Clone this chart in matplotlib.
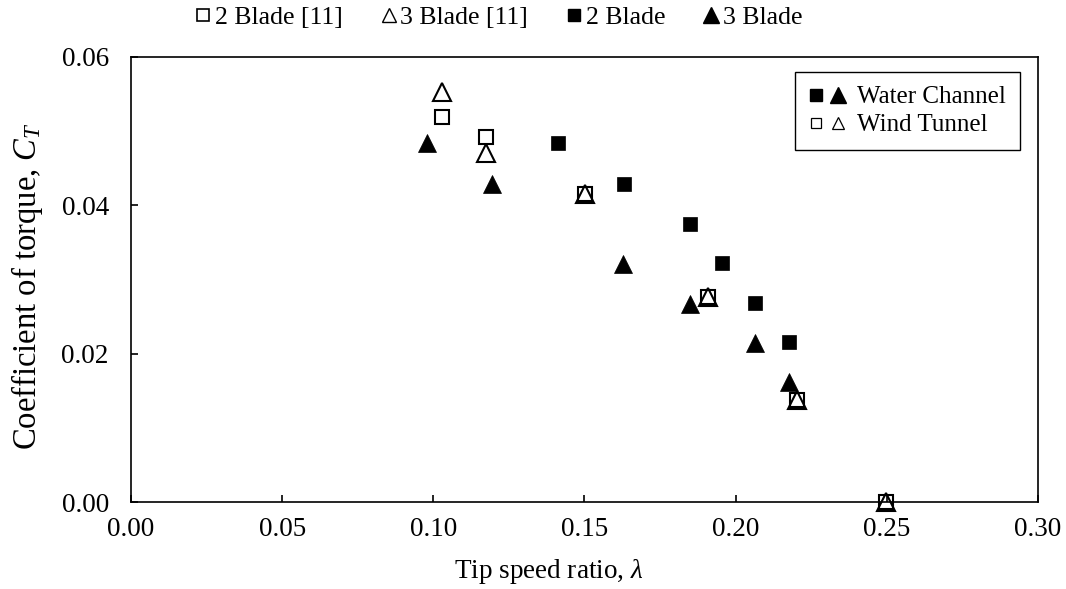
import matplotlib
matplotlib.use("Agg")
import matplotlib.pyplot as plt
from matplotlib.lines import Line2D
from matplotlib.legend_handler import HandlerTuple

plt.rcParams['font.family'] = ['Liberation Serif', 'DejaVu Serif']
plt.rcParams['mathtext.fontset'] = 'custom'
plt.rcParams['mathtext.rm'] = 'Liberation Serif'
plt.rcParams['mathtext.it'] = 'Liberation Serif:italic'

# 2 Blade (water channel, filled squares)
lam_2b = [0.1413, 0.1630, 0.1848, 0.1956, 0.2063, 0.2175]
ct_2b = [0.0484, 0.0429, 0.0375, 0.0322, 0.0268, 0.0215]
# 3 Blade (water channel, filled triangles)
lam_3b = [0.0979, 0.1194, 0.1628, 0.1848, 0.2064, 0.2175]
ct_3b = [0.0483, 0.0429, 0.0321, 0.0267, 0.0214, 0.0161]
# 2 Blade [11] (wind tunnel, open squares)
lam_2b_ref = [0.1030, 0.1175, 0.1501, 0.1908, 0.2202, 0.2498]
ct_2b_ref = [0.0518, 0.0491, 0.0415, 0.0276, 0.0137, 0.0]
# 3 Blade [11] (wind tunnel, open triangles)
lam_3b_ref = [0.1029, 0.1175, 0.1501, 0.1907, 0.2202, 0.2497]
ct_3b_ref = [0.0552, 0.0470, 0.0415, 0.0276, 0.0137, 0.0]

xticks = [0.00, 0.05, 0.10, 0.15, 0.20, 0.25, 0.30]
yticks = [0.00, 0.02, 0.04, 0.06]

FS = 19.5

fig = plt.figure(figsize=(10.66, 5.89), dpi=100)
ax = fig.add_axes([0.1229, 0.1477, 0.9737 - 0.1229, 0.904 - 0.1477])

ax.plot(lam_2b_ref, ct_2b_ref, linestyle='none', marker='s', markersize=10.5,
        markerfacecolor='none', markeredgecolor='black', markeredgewidth=1.5, clip_on=False, zorder=3)
ax.plot(lam_3b_ref, ct_3b_ref, linestyle='none', marker='^', markersize=13,
        markerfacecolor='none', markeredgecolor='black', markeredgewidth=1.5, clip_on=False, zorder=3)
ax.plot(lam_2b, ct_2b, linestyle='none', marker='s', markersize=10,
        markerfacecolor='black', markeredgecolor='black', markeredgewidth=0.5, zorder=4)
ax.plot(lam_3b, ct_3b, linestyle='none', marker='^', markersize=13.5,
        markerfacecolor='black', markeredgecolor='black', markeredgewidth=0.5, zorder=4)

ax.set_xlim(0, 0.30)
ax.set_ylim(0, 0.06)
ax.set_xticks(xticks)
ax.set_yticks(yticks)
ax.set_xticklabels([f"{v:.2f}" for v in xticks])
ax.set_yticklabels([f"{v:.2f}" for v in yticks])
ax.tick_params(axis='both', direction='in', length=5, width=1.2, labelsize=FS, colors='black')
ax.tick_params(axis='x', pad=11)
ax.tick_params(axis='y', pad=16)
for s in ax.spines.values():
    s.set_linewidth(1.2)
    s.set_color('black')

ax.set_xlabel(r"Tip speed ratio, $\mathit{\lambda}$", fontsize=FS)
ax.xaxis.label.set_va('center')
ax.xaxis.set_label_coords(0.46, -0.155)
ax.set_ylabel(r"Coefficient of torque, $C_T$", fontsize=23.5)
ax.yaxis.label.set_va('center')
ax.yaxis.set_label_coords(-0.115, 0.484)

# Top legend row
m2r = Line2D([], [], linestyle='none', marker='s', markersize=9, markerfacecolor='none',
             markeredgecolor='black', markeredgewidth=1.2)
m3r = Line2D([], [], linestyle='none', marker='^', markersize=10, markerfacecolor='none',
             markeredgecolor='black', markeredgewidth=1.0)
m2 = Line2D([], [], linestyle='none', marker='s', markersize=8, markerfacecolor='black',
            markeredgecolor='black')
m3 = Line2D([], [], linestyle='none', marker='^', markersize=11, markerfacecolor='black',
            markeredgecolor='black')
fig.legend([m2r, m3r, m2, m3], ["2 Blade [11]", "3 Blade [11]", "2 Blade", "3 Blade"],
           loc='center', bbox_to_anchor=(0.468, 0.970), ncol=4, frameon=False,
           fontsize=18.5, handlelength=0.6, handletextpad=0.15, columnspacing=1.5,
           borderpad=0.0)

# Inner legend box
w1 = Line2D([], [], linestyle='none', marker='s', markersize=8, markerfacecolor='black', markeredgecolor='black')
w2 = Line2D([], [], linestyle='none', marker='^', markersize=12, markerfacecolor='black', markeredgecolor='black')
t1 = Line2D([], [], linestyle='none', marker='s', markersize=6.5, markerfacecolor='none', markeredgecolor='black', markeredgewidth=0.9)
t2 = Line2D([], [], linestyle='none', marker='^', markersize=9, markerfacecolor='none', markeredgecolor='black', markeredgewidth=0.9)
leg = ax.legend([(w1, w2), (t1, t2)], ["Water Channel", "Wind Tunnel"],
                handler_map={tuple: HandlerTuple(ndivide=None, pad=0.3)},
                loc='upper right', bbox_to_anchor=(0.980, 0.965), fontsize=18,
                handlelength=1.45, handletextpad=0.5, borderpad=0.55, labelspacing=0.22,
                borderaxespad=0.0,
                fancybox=False, framealpha=1, edgecolor='black')
leg.get_frame().set_linewidth(1.0)

fig.savefig("out.png", dpi=100)
